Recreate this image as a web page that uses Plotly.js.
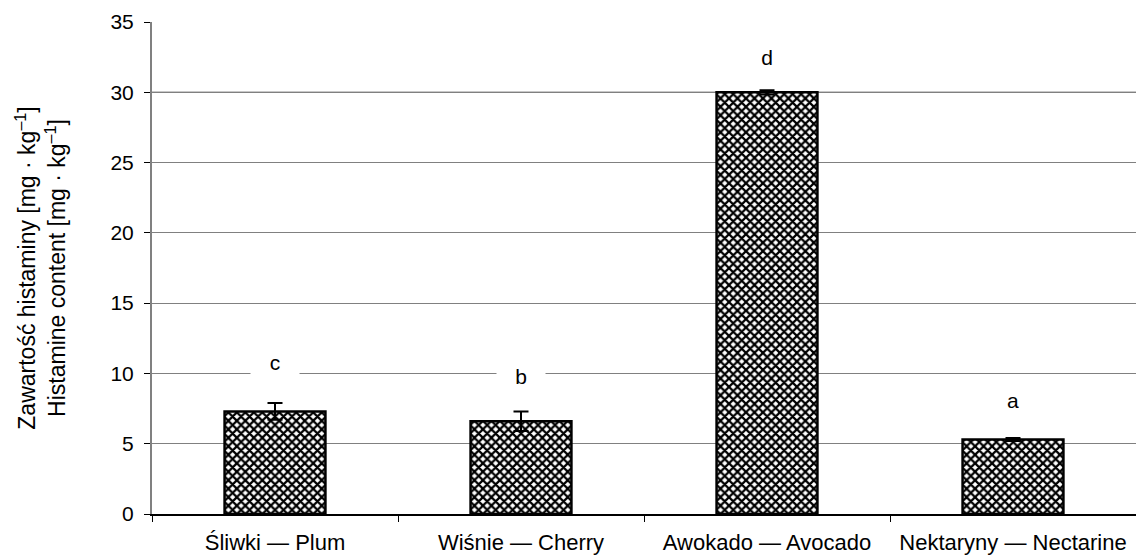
<!DOCTYPE html>
<html>
<head>
<meta charset="utf-8">
<script src="https://cdn.plot.ly/plotly-3.0.1.min.js"></script>
<style>html,body{margin:0;padding:0;background:#fff}#chart{width:1136px;height:558px}</style>
</head>
<body>
<div id="chart"></div>
<script>
const categories = ["Śliwki — Plum", "Wiśnie — Cherry", "Awokado — Avocado", "Nektaryny — Nectarine"];
const values = [7.3, 6.6, 30.0, 5.3];
const errors = [0.6, 0.7, 0.15, 0.1];
const letters = ["c", "b", "d", "a"];
const letterY = [10.8, 9.8, 32.5, 8.1];
const yTicks = [0, 5, 10, 15, 20, 25, 30, 35];

const FONT = "Liberation Sans, Arial, sans-serif";

const trace = {
  type: "bar",
  x: categories,
  y: values,
  width: 0.41,
  marker: {
    color: "#ffffff",
    line: {color: "#000", width: 2.5},
    pattern: {shape: "x", fgcolor: "#000", bgcolor: "#fff", size: 6, solidity: 0.6}
  },
  error_y: {type: "data", array: errors, visible: true, color: "#000", thickness: 2, width: 7.5},
  hoverinfo: "none"
};

const annotations = categories.map((c, i) => ({
  x: c, y: letterY[i], xref: "x", yref: "y",
  text: letters[i], showarrow: false,
  font: {family: FONT, size: 21, color: "#000"},
  bgcolor: (letters[i] === "c" || letters[i] === "b") ? "#fff" : "rgba(0,0,0,0)",
  width: 42, borderpad: 3
}));

const layout = {
  width: 1136, height: 558,
  margin: {l: 152, r: 0, t: 22, b: 44},
  paper_bgcolor: "#fff", plot_bgcolor: "#fff",
  showlegend: false,
  font: {family: FONT, size: 21, color: "#000"},
  xaxis: {
    range: [-0.5, 3.5],
    tickson: "boundaries",
    ticks: "outside", ticklen: 6, tickcolor: "#000", tickwidth: 1,
    ticklabelstandoff: 8,
    showline: true, linecolor: "#000", linewidth: 2,
    showgrid: false, zeroline: false,
    tickfont: {family: FONT, size: 22}
  },
  yaxis: {
    range: [0, 35],
    tickvals: yTicks,
    ticks: "outside", ticklen: 6, tickcolor: "#000", tickwidth: 1,
    ticklabelstandoff: 6,
    showline: true, linecolor: "#808080", linewidth: 2,
    showgrid: true, gridcolor: "#808080", gridwidth: 1,
    zeroline: false,
    tickfont: {family: FONT, size: 21},
    title: {
      text: "Zawartość histaminy [mg · kg<sup>–1</sup>]<br>Histamine content [mg · kg<sup>–1</sup>]",
      font: {family: FONT, size: 23}, standoff: 38
    }
  },
  shapes: [{
    type: "line", xref: "paper", x0: 0, x1: 1, yref: "y", y0: yTicks[6], y1: yTicks[6],
    line: {color: "#000", width: 1}, layer: "below"
  }],
  annotations: annotations
};

Plotly.newPlot("chart", [trace], layout, {displayModeBar: false, staticPlot: true});
</script>
</body>
</html>
